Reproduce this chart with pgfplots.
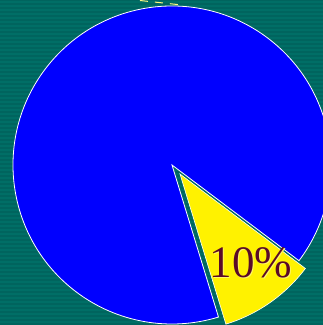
\documentclass[border=0pt]{standalone}
\usepackage{pgfplots}
\pgfplotsset{compat=1.18}
\usepackage{fontspec}
\setmainfont{Liberation Serif}
\definecolor{bgteal}{RGB}{0,110,102}
\definecolor{bgstripe}{RGB}{0,100,94}
\definecolor{slicetext}{RGB}{90,10,40}
\begin{document}
\begin{tikzpicture}
\begin{axis}[width=323pt,height=325pt,scale only axis,
  xmin=0,xmax=323,ymin=0,ymax=325,hide axis,clip=true]
% background
\fill[bgteal] (axis cs:0,0) rectangle (axis cs:323,325);
\pgfplotsinvokeforeach{0,...,81}{
  \fill[bgstripe] (axis cs:0,4*#1) rectangle (axis cs:323,4*#1+2);
}
\draw[dashed,color=yellow!50!white,line width=1pt,dash pattern=on 8pt off 7pt] (axis cs:140,324.5) -- (axis cs:182,320);
% slices: 90% blue, 10% yellow (exploded)
\filldraw[fill=blue,draw=white,line width=0.8pt] (axis cs:172,160) -- ++(-37:159pt) arc[start angle=-37,end angle=287,radius=159pt] -- cycle;
\filldraw[fill=yellow,draw=white,line width=0.6pt] (axis cs:180,151) -- ++(-73:157pt) arc[start angle=-73,end angle=-37,radius=157pt] -- cycle;
\node[text=yellow!60!white,font=\fontsize{45}{45}\selectfont,inner sep=0pt] at (axis cs:251.8,61.3) {10\%};
\node[text=slicetext,font=\fontsize{45}{45}\selectfont,inner sep=0pt] at (axis cs:251,62) {10\%};
\end{axis}
\end{tikzpicture}
\end{document}
